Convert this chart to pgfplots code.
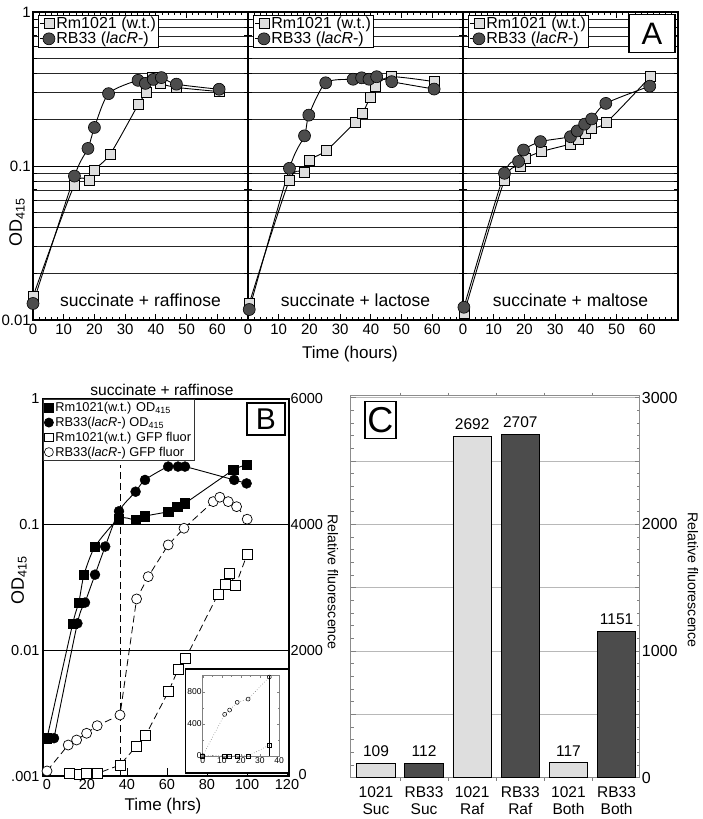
\documentclass[border=0pt]{standalone}
\usepackage{pgfplots}
\pgfplotsset{compat=1.18}
\usepackage{pgfplotstable}
\usepackage{fontspec}
\setmainfont{Liberation Sans}
\definecolor{lg}{HTML}{DEDEDE}
\definecolor{dg}{HTML}{4C4C4C}
\definecolor{cgrid}{HTML}{B8B8B8}
\newcommand\fs[1]{\fontsize{#1}{#1}\selectfont}

% ---------- Panel A data ----------
\pgfplotstableread{
t od
0 0.0142
13.4 0.0745
18.3 0.081
19.9 0.094
25.2 0.12
34.4 0.253
36.9 0.30
39.0 0.374
41.5 0.344
46.7 0.324
60.8 0.304
}\AaS
\pgfplotstableread{
t od
0 0.0128
13.5 0.086
17.9 0.13
20.0 0.178
24.6 0.295
34.2 0.36
36.6 0.344
39.2 0.365
41.8 0.375
46.7 0.34
60.6 0.315
}\AaC
\pgfplotstableread{
t od
0.4 0.0128
13.5 0.081
18.4 0.0905
19.8 0.109
25.5 0.126
34.8 0.192
37.3 0.22
39.7 0.278
41.6 0.331
46.5 0.38
60.6 0.353
}\AbS
\pgfplotstableread{
t od
0.4 0.0117
13.5 0.0966
18.4 0.157
19.8 0.214
25.3 0.347
34.2 0.366
37.0 0.374
39.4 0.366
41.9 0.38
46.8 0.353
60.6 0.316
}\AbC
\pgfplotstableread{
t od
0.3 0.011
13.5 0.081
18.6 0.1
20.3 0.112
25.5 0.124
35.0 0.139
37.4 0.148
39.9 0.163
41.8 0.176
46.7 0.192
61.0 0.38
}\AcS
\pgfplotstableread{
t od
0.3 0.0121
13.5 0.0897
18.1 0.107
19.7 0.127
25.2 0.144
35.0 0.155
37.2 0.169
39.6 0.187
41.9 0.202
46.5 0.255
60.8 0.33
}\AcC

% ---------- Panel B data ----------
\pgfplotstableread{
t od
0 0.002
12.9 0.0164
15.9 0.024
18.5 0.040
24.0 0.067
36.0 0.112
44.3 0.109
49.0 0.117
60.6 0.127
65.1 0.139
69.0 0.148
93.1 0.272
99.8 0.298
}\BodS
\pgfplotstableread{
t od
3.5 0.002
15.2 0.0164
19.0 0.024
24.0 0.040
29.1 0.067
36.0 0.128
44.3 0.183
49.0 0.227
60.6 0.29
65.5 0.29
69.0 0.29
93.6 0.227
99.8 0.213
}\BodC
\pgfplotstableread{
t f
0 80
10.6 493
14.8 573
19.8 680
25.1 801
36.5 971
44.8 2818
50.6 3173
60.6 3678
68.5 3943
83.1 4367
86.4 4437
90.6 4367
94.8 4287
100.1 4087
}\BgfC
\pgfplotstableread{
t f
11.1 40
16.1 30
19.8 40
25.1 40
36.5 175
44.8 478
49.4 653
60.9 1353
65.6 1703
69.3 1873
85.6 2897
89.3 3057
91.4 3227
94.3 3030
100.1 3530
}\BgfS
\pgfplotstableread{
t f
0 0
11.5 517
14.1 571
18.1 667
23.8 708
34.9 983
}\IC
\pgfplotstableread{
t f
0 0
11.5 0
14.1 0
18.1 0
24.1 0
34.9 133
}\IS

% ---------- Panel C data ----------
\pgfplotstableread{
x v
0 109
2 2692
4 117
}\Cl
\pgfplotstableread{
x v
1 112
3 2707
5 1151
}\Cd

\tikzset{
 sqA/.style={mark=square*, mark size=5pt, mark options={fill=lg, draw=black, line width=0.6pt, solid}},
 ciA/.style={mark=*, mark size=6pt, mark options={fill=dg, draw=black, line width=0.6pt, solid}},
}

\begin{document}
\begin{tikzpicture}
\useasboundingbox (0pt,0pt) rectangle (703pt,-819pt);

% ================= Panel A =================
\begin{axis}[at={(33pt,-12pt)}, yticklabels={0.01,0.1,1},
  anchor=north west, scale only axis, width=215pt, height=308pt,
  ymode=log, ymin=0.01, ymax=1, xmin=0, xmax=70,
  xtick={0,10,...,60}, minor xtick={2,4,...,68},
  ytick={0.01,0.1,1},
  minor ytick={0.02,0.03,0.04,0.05,0.06,0.07,0.08,0.09,0.2,0.3,0.4,0.5,0.6,0.7,0.8,0.9},
  ymajorgrids, yminorgrids,
  major grid style={black, line width=0.9pt},
  minor grid style={black!85, line width=0.7pt},
  axis line style={line width=1.2pt},
  tick style={black, line width=0.8pt},
  major tick length=6pt, minor tick length=3.5pt,
  tick label style={font=\fs{15}},
  yticklabel style={inner sep=2pt},
  /pgf/number format/assume math mode=true,
  clip=false,
  legend style={at={(0.024,0.991)}, anchor=north west, draw=black, line width=0.8pt,
    font=\fs{16}, inner sep=1pt, row sep=0pt, cells={anchor=west}, nodes={inner sep=1pt}},
  legend image code/.code={\path (0pt,0pt) -- (15pt,0pt); \draw[#1] plot coordinates {(9pt,0pt)};}]
\addplot[black, line width=0.9pt, smooth, tension=0.45, forget plot, no marks] table {\AaS};
\addplot[black, line width=0.9pt, smooth, tension=0.45, forget plot, no marks] table {\AaC};
\addplot[only marks, sqA] table {\AaS};
\addplot[only marks, ciA] table {\AaC};
\legend{{\fs{16}Rm1021 (w.t.)}, {\fs{16}RB33 (\textit{lacR}-)}}
\node[font=\fs{17.5}] at (rel axis cs:0.5,0.065) {succinate + raffinose};
\end{axis}

\begin{axis}[at={(248pt,-12pt)}, yticklabels={},
  anchor=north west, scale only axis, width=215pt, height=308pt,
  ymode=log, ymin=0.01, ymax=1, xmin=0, xmax=70,
  xtick={0,10,...,60}, minor xtick={2,4,...,68},
  ytick={0.01,0.1,1},
  minor ytick={0.02,0.03,0.04,0.05,0.06,0.07,0.08,0.09,0.2,0.3,0.4,0.5,0.6,0.7,0.8,0.9},
  ymajorgrids, yminorgrids,
  major grid style={black, line width=0.9pt},
  minor grid style={black!85, line width=0.7pt},
  axis line style={line width=1.2pt},
  tick style={black, line width=0.8pt},
  major tick length=6pt, minor tick length=3.5pt,
  tick label style={font=\fs{15}},
  /pgf/number format/assume math mode=true,
  clip=false,
  legend style={at={(0.024,0.991)}, anchor=north west, draw=black, line width=0.8pt,
    font=\fs{16}, inner sep=1pt, row sep=0pt, cells={anchor=west}, nodes={inner sep=1pt}},
  legend image code/.code={\path (0pt,0pt) -- (15pt,0pt); \draw[#1] plot coordinates {(9pt,0pt)};}]
\addplot[black, line width=0.9pt, smooth, tension=0.45, forget plot, no marks] table {\AbS};
\addplot[black, line width=0.9pt, smooth, tension=0.45, forget plot, no marks] table {\AbC};
\addplot[only marks, sqA] table {\AbS};
\addplot[only marks, ciA] table {\AbC};
\legend{{\fs{16}Rm1021 (w.t.)}, {\fs{16}RB33 (\textit{lacR}-)}}
\node[font=\fs{17.5}] at (rel axis cs:0.5,0.065) {succinate + lactose};
\end{axis}

\begin{axis}[at={(463pt,-12pt)}, yticklabels={},
  anchor=north west, scale only axis, width=215pt, height=308pt,
  ymode=log, ymin=0.01, ymax=1, xmin=0, xmax=70,
  xtick={0,10,...,60}, minor xtick={2,4,...,68},
  ytick={0.01,0.1,1},
  minor ytick={0.02,0.03,0.04,0.05,0.06,0.07,0.08,0.09,0.2,0.3,0.4,0.5,0.6,0.7,0.8,0.9},
  ymajorgrids, yminorgrids,
  major grid style={black, line width=0.9pt},
  minor grid style={black!85, line width=0.7pt},
  axis line style={line width=1.2pt},
  tick style={black, line width=0.8pt},
  major tick length=6pt, minor tick length=3.5pt,
  tick label style={font=\fs{15}},
  /pgf/number format/assume math mode=true,
  clip=false,
  legend style={at={(0.024,0.991)}, anchor=north west, draw=black, line width=0.8pt,
    font=\fs{16}, inner sep=1pt, row sep=0pt, cells={anchor=west}, nodes={inner sep=1pt}},
  legend image code/.code={\path (0pt,0pt) -- (15pt,0pt); \draw[#1] plot coordinates {(9pt,0pt)};}]
\addplot[black, line width=0.9pt, smooth, tension=0.45, forget plot, no marks] table {\AcS};
\addplot[black, line width=0.9pt, smooth, tension=0.45, forget plot, no marks] table {\AcC};
\addplot[only marks, sqA] table {\AcS};
\addplot[only marks, ciA] table {\AcC};
\legend{{\fs{16}Rm1021 (w.t.)}, {\fs{16}RB33 (\textit{lacR}-)}}
\node[font=\fs{17.5}] at (rel axis cs:0.5,0.065) {succinate + maltose};
\end{axis}

\node[draw, fill=white, line width=1.5pt, minimum width=46pt, minimum height=38pt, inner sep=0pt, font=\fs{31}] at (652pt,-33.5pt) {A};
\node[rotate=90, font=\fs{18}] at (17pt,-222pt) {OD\textsubscript{415}};
\node[font=\fs{17}] at (350pt,-354pt) {Time (hours)};

% ================= Panel B =================
\begin{axis}[at={(43pt,-399pt)}, anchor=north west, scale only axis, width=246pt, height=377pt,
 ymode=log, ymin=0.001, ymax=1, xmin=-2, xmax=121,
 xtick={0,20,...,120}, ytick={0.001,0.01,0.1,1}, yticklabels={.001,0.01,0.1,1},
 ymajorgrids, major grid style={black, line width=0.9pt},
 axis line style={line width=1.1pt},
 xtick pos=bottom, ytick style={draw=none}, xtick style={black, line width=0.9pt},
 major tick length=8pt,
 tick label style={font=\fs{14.5}},
 /pgf/number format/assume math mode=true, clip=false]
\addplot[black, line width=0.9pt, smooth, tension=0.4, no marks] table {\BodS};
\addplot[black, line width=0.9pt, smooth, tension=0.5, no marks] table {\BodC};
\addplot[black, line width=0.9pt, dash pattern=on 7pt off 4pt, no marks] coordinates {(36.5,0.001) (36.5,0.3)};
\addplot[only marks, mark=square*, mark size=4.6pt, black] table {\BodS};
\addplot[only marks, mark=*, mark size=5pt, black] table {\BodC};
\end{axis}

\begin{axis}[at={(43pt,-399pt)}, anchor=north west, scale only axis, width=246pt, height=377pt,
 xmin=-2, xmax=121, ymin=0, ymax=6000, axis x line=none, axis y line*=right,
 ytick={0,2000,4000,6000}, yticklabels={\hspace*{8pt}\raisebox{4pt}{0},2000,4000,6000}, ytick style={draw=none},
 y axis line style={line width=1.1pt},
 tick label style={font=\fs{14.5}}, yticklabel style={inner sep=1.5pt},
 scaled y ticks=false,
 /pgf/number format/assume math mode=true, /pgf/number format/1000 sep={},
 clip=false,
 legend style={at={(0,1)}, anchor=north west, draw=black!80, fill=white, line width=0.8pt,
   font=\fs{12.8}, inner sep=1pt, row sep=0pt, cells={anchor=west}},
 legend image code/.code={\path (0pt,0pt) -- (8pt,0pt); \draw[#1] plot coordinates {(4pt,0pt)};}]
\addlegendimage{only marks, mark=square*, mark size=4.2pt, black}
\addlegendimage{only marks, mark=*, mark size=4.5pt, black}
\addlegendimage{only marks, mark=square*, mark size=4.2pt, mark options={fill=white, draw=black, line width=0.6pt}}
\addlegendimage{only marks, mark=*, mark size=4.5pt, mark options={fill=white, draw=black, line width=0.6pt}}
\addplot[black, line width=0.8pt, dash pattern=on 7pt off 4pt, no marks, forget plot] table {\BgfC};
\addplot[black, line width=0.8pt, dash pattern=on 7pt off 4pt, no marks, forget plot] table {\BgfS};
\addplot[only marks, mark=*, mark size=5pt, mark options={fill=white, draw=black, line width=0.7pt}, forget plot] table {\BgfC};
\addplot[only marks, mark=square*, mark size=5pt, mark options={fill=white, draw=black, line width=0.7pt}, forget plot] table {\BgfS};
\legend{{\fs{12.8}Rm1021(w.t.) OD\textsubscript{415}}, {\fs{12.8}RB33(\textit{lacR}-) OD\textsubscript{415}}, {\fs{12.8}Rm1021(w.t.) GFP fluor}, {\fs{12.8}RB33(\textit{lacR}-) GFP fluor}}
\end{axis}

% inset
\filldraw[fill=white, draw=black, line width=1.5pt] (185.7pt,-669pt) rectangle (288.3pt,-773pt);
\begin{axis}[at={(202.7pt,-675.7pt)}, anchor=north west, scale only axis, width=76.3pt, height=81pt,
 xmin=0, xmax=40, ymin=-12, ymax=1000, xtick={0,10,...,40}, ytick={0,400,800},
 minor xtick={5,15,25,35}, minor ytick={200,600},
 axis line style={gray, line width=0.5pt}, tick style={gray, line width=0.4pt},
 major tick length=2.5pt, minor tick length=1.5pt,
 tick label style={font=\fs{8.5}, inner sep=1pt},
 /pgf/number format/assume math mode=true, clip=false]
\addplot[gray, dotted, line width=0.6pt, mark=o, mark size=2pt, mark options={solid, black, line width=0.5pt}] table {\IC};
\addplot[gray, dotted, line width=0.6pt, mark=square, mark size=2pt, mark options={solid, black, line width=0.5pt}] table {\IS};
\addplot[black, line width=1pt, no marks] coordinates {(35,0) (35,1000)};
\end{axis}

\node[draw, fill=white, line width=1.5pt, minimum width=38pt, minimum height=32pt, inner sep=0pt, font=\fs{30}] at (266pt,-419pt) {B};
\node[font=\fs{15.6}] at (162pt,-390pt) {succinate + raffinose};
\node[rotate=90, font=\fs{18}] at (19pt,-580pt) {OD\textsubscript{415}};
\node[font=\fs{17}] at (163pt,-806pt) {Time (hrs)};
\node[rotate=-90, font=\fs{14.2}] at (333pt,-582pt) {Relative fluorescence};

% ================= Panel C =================
\begin{axis}[at={(350.7pt,-395.7pt)}, anchor=north west, scale only axis, width=289pt, height=382pt,
 xmin=-0.525, xmax=5.48, ymin=0, ymax=3015,
 ybar, bar width=38.5pt,
 xtick={0,1,2,3,4,5},
 xticklabels={{1021\\Suc},{RB33\\Suc},{1021\\Raf},{RB33\\Raf},{1021\\Both},{RB33\\Both}},
 xticklabel style={align=center, font=\fontsize{15.5}{17}\selectfont},
 minor xtick={0.5,1.5,2.5,3.5,4.5},
 every major x tick/.append style={draw=none},
 ytick={0,500,...,3000}, yticklabels={0,,1000,,2000,,3000}, yticklabel pos=right,
 minor y tick num=4,
 ymajorgrids, major grid style={cgrid, line width=0.8pt},
 axis line style={black!45, line width=0.9pt},
 tick style={black!50, line width=0.6pt},
 major tick length=5pt, minor tick length=3pt,
 yticklabel style={font=\fs{16}, inner sep=2pt},
 /pgf/number format/assume math mode=true, /pgf/number format/1000 sep={},
 scaled y ticks=false,
 nodes near coords, nodes near coords style={font=\fs{15.5}, yshift=3pt},
 clip=false]
\addplot[fill=lg, draw=black, line width=0.9pt, bar shift=0pt] table[x=x, y=v] {\Cl};
\addplot[fill=dg, draw=black, line width=0.9pt, bar shift=0pt] table[x=x, y=v] {\Cd};
\end{axis}
\node[draw, fill=white, line width=1.5pt, minimum width=31pt, minimum height=37pt, inner sep=0pt, font=\fs{36}] at (380.3pt,-420pt) {C};
\node[rotate=-90, font=\fs{14.2}] at (693pt,-580pt) {Relative fluorescence};

\end{tikzpicture}
\end{document}
